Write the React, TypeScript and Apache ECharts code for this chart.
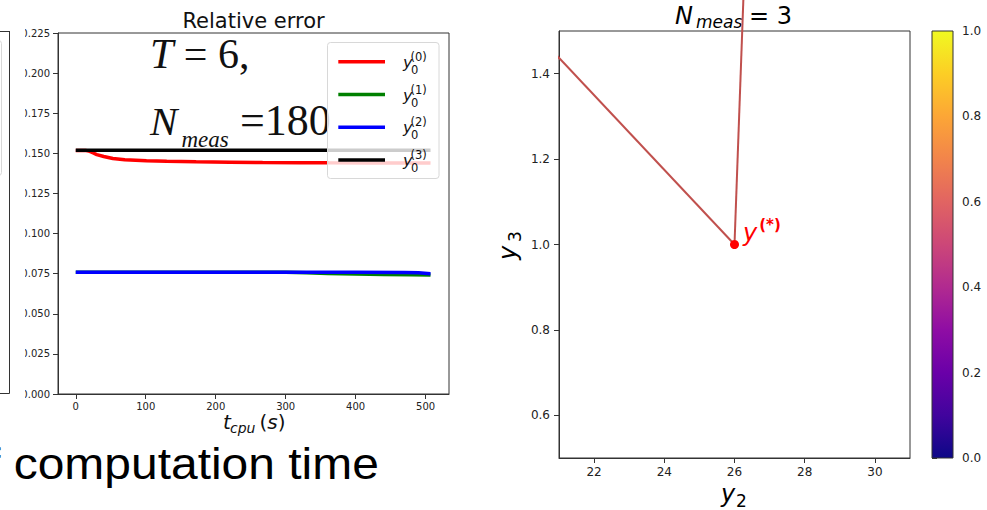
import React, { useEffect, useRef } from "react";
import * as echarts from "echarts";

// ---------- Left chart: relative error vs CPU time ----------
const seriesNames = ["y0(0)", "y0(1)", "y0(2)", "y0(3)"];
const seriesSupers = ["(0)", "(1)", "(2)", "(3)"];
const seriesColors = ["#ff0000", "#008000", "#0000ff", "#000000"];

const cpuTimeY00 = [0, 15, 20, 25, 30, 40, 53, 70, 101, 130, 172, 220, 267, 320, 362, 420, 470, 507];
const errY00 = [0.1518, 0.1517, 0.1512, 0.1502, 0.1492, 0.148, 0.1468, 0.146, 0.1454, 0.145, 0.1447, 0.1445, 0.1443, 0.1442, 0.1441, 0.144, 0.144, 0.1439];

const cpuTimeY01 = [0, 100, 200, 300, 330, 360, 400, 440, 480, 507];
const errY01 = [0.0759, 0.0759, 0.0759, 0.0759, 0.0755, 0.0751, 0.0748, 0.0745, 0.0743, 0.0741];

const cpuTimeY02 = [0, 100, 200, 300, 400, 470, 490, 507];
const errY02 = [0.0759, 0.0759, 0.0759, 0.0759, 0.0759, 0.0758, 0.0755, 0.075];

const cpuTimeY03 = [0, 507];
const errY03 = [0.1519, 0.1519];

const leftXTicks = [0, 100, 200, 300, 400, 500];
const leftXRange = [-25.4, 533.4];
const leftYRange = [0, 0.225];
const leftYStep = 0.025;

// ---------- Right chart: (y2, y3) plane ----------
const yStarY2 = [26];
const yStarY3 = [1.0];
const pathAY2 = [26, 17];
const pathAY3 = [1.0, 1.787];
const pathBY2 = [26, 26.44];
const pathBY3 = [1.0, 2.0];

const rightXTicks = [22, 24, 26, 28, 30];
const rightXRange = [21, 31];
const rightYTicks = [0.6, 0.8, 1.0, 1.2, 1.4];
const rightYRange = [0.5, 1.5];

const colorbarRange = [0, 1];
const colorbarStep = 0.2;
const plasmaColors = ["#0d0887", "#41049d", "#6a00a8", "#8f0da4", "#b12a90", "#cc4778", "#e16462", "#f2844b", "#fca636", "#fcce25", "#f0f921"];

const zip = (a: number[], b: number[]) => a.map((v, i) => [v, b[i]]);

const DV = '"DejaVu Sans"';
const SERIF = '"Liberation Serif"';

function txt(text: string, x: number, y: number, font: string, extra: any = {}, el: any = {}) {
  return {
    type: "text",
    x,
    y,
    z: 1,
    ...el,
    style: {
      text,
      font,
      fill: "#111",
      align: "left",
      textAlign: "left",
      verticalAlign: "middle",
      textVerticalAlign: "middle",
      ...extra,
    },
  };
}

export default function App() {
  const ref = useRef<HTMLDivElement>(null);
  useEffect(() => {
    if (!ref.current) return;
    const chart = echarts.init(ref.current, undefined, { renderer: "svg" });

    const axisColor = "#333";
    const labelColor = "#222";

    const lineData = [zip(cpuTimeY00, errY00), zip(cpuTimeY01, errY01), zip(cpuTimeY02, errY02), zip(cpuTimeY03, errY03)];

    const legendEls: any[] = [
      {
        type: "rect",
        z: 10,
        shape: { x: 327.5, y: 42.5, width: 111.5, height: 136, r: 3 },
        style: { fill: "rgba(255,255,255,0.8)", stroke: "#d8d8d8", lineWidth: 1 },
      },
    ];
    seriesNames.forEach((n, i) => {
      const ry = 61.7 + i * 32.8;
      legendEls.push({
        type: "line",
        z: 11,
        shape: { x1: 338.3, y1: ry, x2: 385, y2: ry },
        style: { stroke: seriesColors[i], lineWidth: 3.5 },
      });
      legendEls.push(txt("y", 403, ry + 0.5, `italic 16px ${DV}`, {}, { z: 11 }));
      legendEls.push(txt(seriesSupers[i], 410.5, ry - 4.9, `11.5px ${DV}`, {}, { z: 11 }));
      legendEls.push(txt("0", 411, ry + 8, `11.5px ${DV}`, {}, { z: 11 }));
    });

    const stops = plasmaColors.map((c, i) => ({ offset: i / (plasmaColors.length - 1), color: c }));

    const axisLineCfg = { show: true, onZero: false, lineStyle: { color: axisColor } };

    const option: any = {
      animation: false,
      grid: [
        { left: 58, top: 33, width: 391, height: 361, show: true, borderColor: axisColor, borderWidth: 1 },
        { left: 559, top: 31, width: 351, height: 427, show: true, borderColor: axisColor, borderWidth: 1 },
        { left: 932, top: 31, width: 21, height: 427, show: false },
      ],
      xAxis: [
        {
          gridIndex: 0,
          type: "value",
          min: leftXRange[0],
          max: leftXRange[1],
          splitLine: { show: false },
          axisLine: axisLineCfg,
          axisTick: { show: true, length: 5, customValues: leftXTicks, lineStyle: { color: axisColor } },
          axisLabel: { customValues: leftXTicks, fontSize: 10, color: labelColor, fontFamily: "DejaVu Sans", margin: 7, formatter: (v: number) => String(v) },
        },
        {
          gridIndex: 1,
          type: "value",
          min: rightXRange[0],
          max: rightXRange[1],
          splitLine: { show: false },
          axisLine: axisLineCfg,
          axisTick: { show: true, length: 5, customValues: rightXTicks, lineStyle: { color: axisColor } },
          axisLabel: { customValues: rightXTicks, fontSize: 12, color: labelColor, fontFamily: "DejaVu Sans", margin: 8, formatter: (v: number) => String(v) },
        },
        { gridIndex: 2, type: "value", min: 0, max: 1, show: false },
      ],
      yAxis: [
        {
          gridIndex: 0,
          type: "value",
          min: leftYRange[0],
          max: leftYRange[1],
          interval: leftYStep,
          splitLine: { show: false },
          axisLine: axisLineCfg,
          axisTick: { show: true, length: 5, lineStyle: { color: axisColor } },
          axisLabel: { fontSize: 10, color: labelColor, fontFamily: "DejaVu Sans", margin: 8, formatter: (v: number) => v.toFixed(3) },
        },
        {
          gridIndex: 1,
          type: "value",
          min: rightYRange[0],
          max: rightYRange[1],
          splitLine: { show: false },
          axisLine: axisLineCfg,
          axisTick: { show: true, length: 5, customValues: rightYTicks, lineStyle: { color: axisColor } },
          axisLabel: { customValues: rightYTicks, fontSize: 12, color: labelColor, fontFamily: "DejaVu Sans", margin: 9, formatter: (v: number) => v.toFixed(1) },
        },
        {
          gridIndex: 2,
          type: "value",
          position: "right",
          min: colorbarRange[0],
          max: colorbarRange[1],
          interval: colorbarStep,
          splitLine: { show: false },
          axisLine: { show: false },
          axisTick: { show: true, length: 5, lineStyle: { color: axisColor } },
          axisLabel: { fontSize: 12, color: labelColor, fontFamily: "DejaVu Sans", margin: 9, formatter: (v: number) => v.toFixed(1) },
        },
      ],
      series: [
        ...seriesNames.map((n, i) => ({
          name: n,
          type: "line",
          xAxisIndex: 0,
          yAxisIndex: 0,
          data: lineData[i],
          showSymbol: false,
          lineStyle: { color: seriesColors[i], width: 3.5 },
          itemStyle: { color: seriesColors[i] },
        })),
        {
          type: "line",
          xAxisIndex: 1,
          yAxisIndex: 1,
          data: zip(pathAY2, pathAY3),
          showSymbol: false,
          clip: false,
          lineStyle: { color: "#c0504d", width: 2 },
          z: 3,
        },
        {
          type: "line",
          xAxisIndex: 1,
          yAxisIndex: 1,
          data: zip(pathBY2, pathBY3),
          showSymbol: false,
          clip: false,
          lineStyle: { color: "#c0504d", width: 2 },
          z: 3,
        },
        {
          type: "scatter",
          xAxisIndex: 1,
          yAxisIndex: 1,
          data: zip(yStarY2, yStarY3),
          symbolSize: 9,
          itemStyle: { color: "#ff0000", opacity: 1 },
          z: 5,
          label: {
            show: true,
            position: "right",
            distance: 4,
            offset: [0, -12],
            formatter: () => "{y|y}{s|(*)}",
            rich: {
              y: { fontSize: 24, fontStyle: "italic", fontFamily: "DejaVu Sans", color: "#ff0000", lineHeight: 30 },
              s: { fontSize: 15, fontWeight: "bold", fontFamily: "DejaVu Sans", color: "#ff0000", verticalAlign: "top", padding: [0, 0, 0, 2] },
            },
          },
        },
        {
          type: "custom",
          xAxisIndex: 2,
          yAxisIndex: 2,
          data: [[colorbarRange[0], colorbarRange[0], colorbarRange[1], colorbarRange[1]]],
          renderItem: (params: any, api: any) => {
            const p0 = api.coord([api.value(0), api.value(1)]);
            const p1 = api.coord([api.value(2), api.value(3)]);
            return {
              type: "rect",
              shape: { x: p0[0], y: p1[1], width: p1[0] - p0[0], height: p0[1] - p1[1] },
              style: { fill: new echarts.graphic.LinearGradient(0, 1, 0, 0, stops), stroke: axisColor, lineWidth: 1 },
            };
          },
        },
      ],
      graphic: {
        elements: [
          // left partial neighbour axes
          { type: "line", z: 1, shape: { x1: 9.5, y1: 31, x2: 9.5, y2: 393.5 }, style: { stroke: axisColor, lineWidth: 1 } },
          { type: "line", z: 1, shape: { x1: 0, y1: 31.5, x2: 9.5, y2: 31.5 }, style: { stroke: axisColor, lineWidth: 1 } },
          { type: "line", z: 1, shape: { x1: 0, y1: 393.5, x2: 9.5, y2: 393.5 }, style: { stroke: axisColor, lineWidth: 1 } },
          { type: "rect", z: 1, shape: { x: -60, y: 40.5, width: 61.5, height: 135, r: 3 }, style: { fill: "none", stroke: "#d8d8d8", lineWidth: 1 } },
          // cover for cropped tick labels
          { type: "rect", z: 50, shape: { x: 11, y: 25, width: 14, height: 380 }, style: { fill: "#ffffff" } },
          // left title
          txt("Relative error", 253.5, 21, `21px ${DV}`, { align: "center", textAlign: "center" }),
          // annotation
          txt("{i|T} = 6,", 150, 54.4, `42px ${SERIF}`, {
            rich: { i: { fontStyle: "italic", fontSize: 42, fontFamily: "Liberation Serif" } },
          }),
          txt("N", 150, 121, `italic 41px ${SERIF}`),
          txt("meas", 181.5, 139.7, `italic 23px ${SERIF}`),
          txt("=180", 240, 120.5, `44px ${SERIF}`),
          ...legendEls,
          // left x label
          txt("t", 223, 422, `italic 20px ${DV}`),
          txt("cpu", 230, 427.8, `italic 14px ${DV}`),
          txt("({i|s})", 259.5, 422, `20px ${DV}`, {
            rich: { i: { fontStyle: "italic", fontSize: 20, fontFamily: "DejaVu Sans" } },
          }),
          // big slide text
          txt("of computation time", -39.6, 463.7, `44px "Liberation Sans"`, { fill: "#000" }, { scaleX: 1.09 }),
          // right title
          txt("N", 675, 15.6, `italic 24px ${DV}`, { fill: "#000" }),
          txt("meas", 696, 21.6, `italic 17px ${DV}`, { fill: "#000" }),
          txt("= 3", 749, 15.6, `24px ${DV}`, { fill: "#000" }),
          // right x label
          txt("y", 721, 493.8, `italic 24px ${DV}`, { fill: "#000" }),
          txt("2", 736, 500.6, `17px ${DV}`, { fill: "#000" }),
          // right y label (rotated)
          txt("y", 508, 260, `italic 24px ${DV}`, { fill: "#000" }, { rotation: Math.PI / 2 }),
          txt("3", 515, 242, `17px ${DV}`, { fill: "#000" }, { rotation: Math.PI / 2 }),
        ],
      },
    };

    chart.setOption(option);
    return () => chart.dispose();
  }, []);

  return <div ref={ref} style={{ position: "absolute", left: 0, top: 0, width: 987, height: 510, background: "#fff" }} />;
}
